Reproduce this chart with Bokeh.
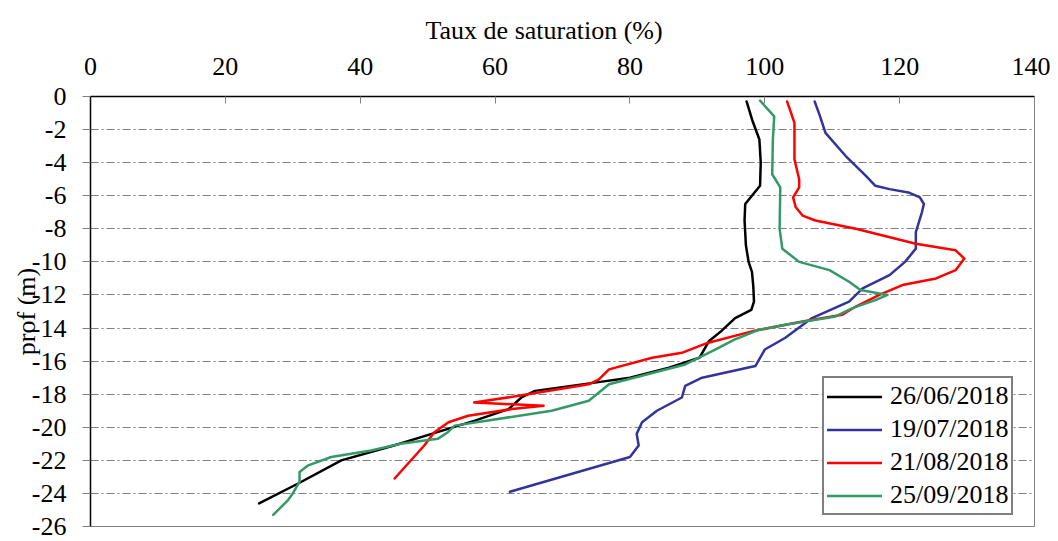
from bokeh.plotting import figure
from bokeh.models import Range1d, FixedTicker, Legend, LegendItem, Title
from bokeh.embed import file_html
from bokeh.resources import INLINE

# ---- data ----
x_title = "Taux de saturation (%)"
y_title = "prof (m)"
x_ticks = [0, 20, 40, 60, 80, 100, 120, 140]
y_ticks = [0, -2, -4, -6, -8, -10, -12, -14, -16, -18, -20, -22, -24, -26]
y_tick_labels = ["0", "-2", "-4", "-6", "-8", "-10", "-12", "-14", "-16", "-18", "-20", "-22", "-24", "-26"]

series_names = ["26/06/2018", "19/07/2018", "21/08/2018", "25/09/2018"]

d_0626 = [-0.3, -1.5, -2.6, -4.0, -5.4, -5.9, -6.5, -7.5, -9.0, -10.0, -10.6, -11.5, -12.4, -12.9,
          -13.4, -14.2, -14.8, -15.8, -16.4, -17.0, -17.3, -17.8, -18.2, -18.9, -19.6, -20.4,
          -21.1, -22.0, -23.4, -24.6]
s_0626 = [97.3, 98.2, 99.2, 99.4, 99.3, 98.3, 97.1, 97.0, 97.2, 97.6, 98.1, 98.3, 98.4, 98.0,
          95.6, 93.5, 91.7, 90.3, 85.8, 80.0, 74.8, 65.9, 63.9, 62.0, 57.0, 50.6,
          45.0, 37.2, 30.8, 25.0]

d_0719 = [-0.3, -1.2, -2.2, -3.6, -4.8, -5.4, -5.6, -5.8, -6.1, -6.5, -7.0, -8.2, -9.2, -10.0, -10.8,
          -11.6, -12.4, -13.4, -14.6, -15.3, -16.3, -17.0, -17.5, -18.2, -19.0, -19.7, -20.4, -21.1,
          -21.8, -23.9]
s_0719 = [107.4, 108.2, 109.0, 112.0, 115.0, 116.4, 118.5, 121.3, 123.0, 123.6, 123.3, 122.4, 122.4, 120.8, 118.5,
          114.5, 112.5, 107.0, 103.0, 100.0, 98.6, 90.7, 88.2, 87.7, 84.0, 81.8, 81.0, 81.3,
          80.0, 62.2]

d_0821 = [-0.3, -1.6, -3.8, -5.0, -5.5, -6.1, -6.7, -7.2, -7.5, -8.0, -8.9, -9.3, -9.8, -10.5, -11.0,
          -11.4, -12.0, -12.7, -13.2, -13.6, -14.2, -14.9, -15.5, -15.8, -16.5, -17.1, -17.4,
          -18.1, -18.5, -18.7, -18.9, -19.3, -19.7, -20.3, -21.1, -23.1]
s_0821 = [103.3, 104.4, 104.4, 105.1, 105.1, 104.2, 104.6, 105.6, 107.5, 113.5, 122.4, 128.3, 129.6, 128.3, 125.4,
          120.4, 117.0, 113.5, 111.5, 105.6, 98.1, 91.5, 87.7, 83.3, 76.9, 75.4, 73.9,
          63.5, 56.9, 67.2, 62.5, 56.0, 53.1, 51.0, 49.5, 45.1]

d_0925 = [-0.25, -1.2, -2.6, -4.7, -5.5, -8.0, -9.2, -10.0, -10.5, -11.2, -11.7, -12.0, -12.3, -12.8,
          -13.3, -13.8, -14.1, -14.7, -15.4, -16.2, -17.4, -18.4, -19.0, -19.9, -20.3, -20.7,
          -21.0, -21.4, -21.8, -22.3, -22.7, -23.3, -24.0, -24.4, -25.3]
s_0925 = [99.3, 101.4, 101.2, 101.1, 102.3, 102.2, 102.6, 105.1, 109.6, 112.5, 114.2, 118.2, 116.5, 113.0,
          110.5, 103.0, 99.2, 95.5, 92.2, 88.2, 76.9, 73.9, 68.4, 54.0, 53.0, 51.5,
          46.0, 41.6, 35.7, 32.3, 31.0, 31.0, 30.0, 29.3, 27.1]

colors = ["#000000", "#333399", "#FF0000", "#339966"]
FONT = "'Liberation Serif'"

p = figure(width=1050, height=541, output_backend="svg", toolbar_location=None,
           x_range=Range1d(0, 140), y_range=Range1d(-26, 0), x_axis_location="above",
           frame_width=944, frame_height=430,
           min_border_left=90, min_border_right=16, min_border_top=96, min_border_bottom=15)
p.background_fill_color = "white"
p.border_fill_color = "white"
p.outline_line_color = "#7f7f7f"
p.outline_line_width = 1

renderers = []
for xs, ys, c in zip([s_0626, s_0719, s_0821, s_0925], [d_0626, d_0719, d_0821, d_0925], colors):
    r = p.line(xs, ys, line_color=c, line_width=2.5, line_join="round", line_cap="round")
    renderers.append(r)

# x axis (top)
xa = p.xaxis[0]
xa.ticker = FixedTicker(ticks=x_ticks)
xa.major_label_text_font = FONT
xa.major_label_text_font_size = "26px"
xa.major_label_text_color = "black"
xa.major_label_standoff = 22
xa.major_tick_in = 7
xa.major_tick_out = 0
xa.minor_tick_in = 0
xa.minor_tick_out = 0
xa.axis_line_color = "black"
xa.axis_line_width = 1.5
xa.major_tick_line_color = "#7f7f7f"

p.add_layout(Title(text=x_title, align="left", offset=335, text_font=FONT,
                   text_font_size="26px", text_font_style="normal", text_color="black",
                   standoff=20), "above")

# y axis (left)
ya = p.yaxis[0]
ya.ticker = FixedTicker(ticks=y_ticks)
ya.major_label_overrides = {t: l for t, l in zip(y_ticks, y_tick_labels)}
ya.major_label_text_font = FONT
ya.major_label_text_font_size = "26px"
ya.major_label_text_color = "black"
ya.major_label_standoff = 16
ya.major_tick_in = 0
ya.major_tick_out = 8
ya.minor_tick_in = 0
ya.minor_tick_out = 0
ya.axis_line_color = "black"
ya.axis_line_width = 1.5
ya.major_tick_line_color = "#7f7f7f"
ya.axis_label = y_title
ya.axis_label_text_font = FONT
ya.axis_label_text_font_size = "26px"
ya.axis_label_text_font_style = "normal"
ya.axis_label_text_color = "black"
ya.axis_label_standoff = -12

p.xgrid.visible = False
p.ygrid.grid_line_color = "#7f7f7f"
p.ygrid.grid_line_dash = "8 3 2 3"
p.ygrid.grid_line_width = 1

legend = Legend(items=[LegendItem(label=n, renderers=[r]) for n, r in zip(series_names, renderers)],
                location=(732, 11), label_text_font=FONT, label_text_font_size="26px",
                label_text_color="black", glyph_width=55, glyph_height=27, label_height=27,
                spacing=3, padding=3, margin=0, label_standoff=8,
                border_line_color="black", border_line_width=2, background_fill_color="white",
                background_fill_alpha=1.0)
p.add_layout(legend)

open("out.html", "w").write(file_html(p, INLINE))
